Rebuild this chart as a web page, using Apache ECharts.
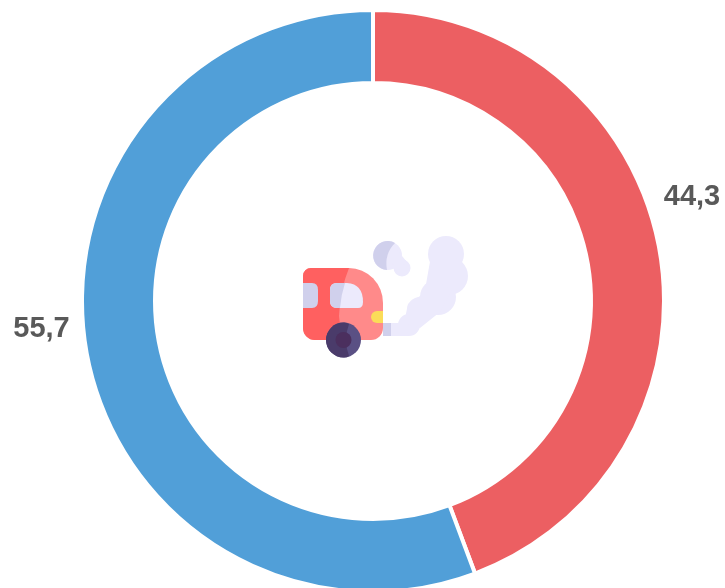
<!DOCTYPE html>
<html><head><meta charset="utf-8">
<style>html,body{margin:0;padding:0;background:#fff}#c{width:725px;height:588px}</style>
<script src="https://cdn.jsdelivr.net/npm/echarts@6/dist/echarts.min.js"></script>
</head><body><div id="c"></div>
<script>
const categories = ['A', 'B'];
const values = [44.3, 55.7];
const colors = ['#EC5F62', '#519FD8'];
const labelAnchors = [{x: 692, y: 197}, {x: 41.5, y: 329}];

const chart = echarts.init(document.getElementById('c'), null, {renderer: 'canvas'});
const iconSvg = `<svg xmlns="http://www.w3.org/2000/svg" width="725" height="588" viewBox="0 0 725 588">
<g fill="#ECEAFC">
<circle cx="446" cy="254" r="18"/><circle cx="449" cy="276" r="19"/><circle cx="438" cy="297" r="18"/>
<circle cx="420" cy="310" r="13"/><circle cx="409" cy="325" r="11"/><path d="M383 323 H409 V336 H383 Z"/>
<path d="M432 250 H456 V290 H425 Z"/>
<path d="M404 323 L408 304 L420 296 L432 278 L452 290 L440 312 L420 328 Z"/>
<circle cx="387.5" cy="255.5" r="14.5"/><circle cx="402" cy="268" r="8.5"/><path d="M392 262 L397 250 L407 262 L396 272 Z"/>
</g>
<path fill="#D0D0EC" d="M395 243 A14.5 14.5 0 1 0 387 270 Q384 254 395 243 Z"/>
<path fill="#D0D0EC" d="M383 323 H391 V336 H383 Z"/>
<path fill="#FF8A8A" d="M311 268 H349 A34 35 0 0 1 383 303 V328 A12 12 0 0 1 371 340 H315 A12 12 0 0 1 303 328 V276 A8 8 0 0 1 311 268 Z"/>
<path fill="#FF6060" d="M311 268 H349 Q340 290 339 316 Q340 330 345 340 H315 A12 12 0 0 1 303 328 V276 A8 8 0 0 1 311 268 Z"/>
<path fill="#D0D0EC" d="M303 283 H312 Q318 283 318 290 V301 Q318 308 312 308 H303 Z"/>
<path fill="#ECEAFC" d="M337 283 H347 Q363 284 363 302 Q363 308 358 308 H337 Q330 308 330 301 V290 Q330 283 337 283 Z"/>
<path fill="#D0D0EC" d="M337 283 H345 Q341 295 340 308 H337 Q330 308 330 301 V290 Q330 283 337 283 Z"/>
<path fill="#FBDC58" d="M377 311 H383 V323 H377 A6 6 0 0 1 377 311 Z"/>
<circle cx="343.5" cy="340" r="17.5" fill="#5A5084"/>
<path fill="#4A3B6A" d="M343.5 322.5 A17.5 17.5 0 0 0 343.5 357.5 Q346 358 349 356 Q343 340 349 324 Q346 322 343.5 322.5 Z"/>
<circle cx="343.5" cy="340" r="8" fill="#4B2F5E"/>
</svg>`;

chart.setOption({
  animation: false,
  graphic: [{
    type: 'image', silent: true, z: 10, left: 0, top: 0,
    style: {image: 'data:image/svg+xml;charset=utf-8,' + encodeURIComponent(iconSvg), x: 0, y: 0, width: 725, height: 588}
  }],
  series: [{
    type: 'pie',
    center: [373, 301],
    radius: [218, 291],
    startAngle: 90,
    clockwise: true,
    data: categories.map((n, i) => ({name: n, value: values[i], itemStyle: {color: colors[i]}})),
    itemStyle: {borderColor: '#fff', borderWidth: 4},
    label: {
      show: true, position: 'outside', overflow: 'none',
      formatter: p => String(p.value).replace('.', ','),
      fontFamily: 'Liberation Sans, Arial, sans-serif',
      fontSize: 29, fontWeight: 'bold', color: '#595959'
    },
    labelLine: {show: false},
    labelLayout: p => ({
      x: labelAnchors[p.dataIndex].x, y: labelAnchors[p.dataIndex].y,
      align: 'center', verticalAlign: 'middle'
    })
  }]
});
</script></body></html>
